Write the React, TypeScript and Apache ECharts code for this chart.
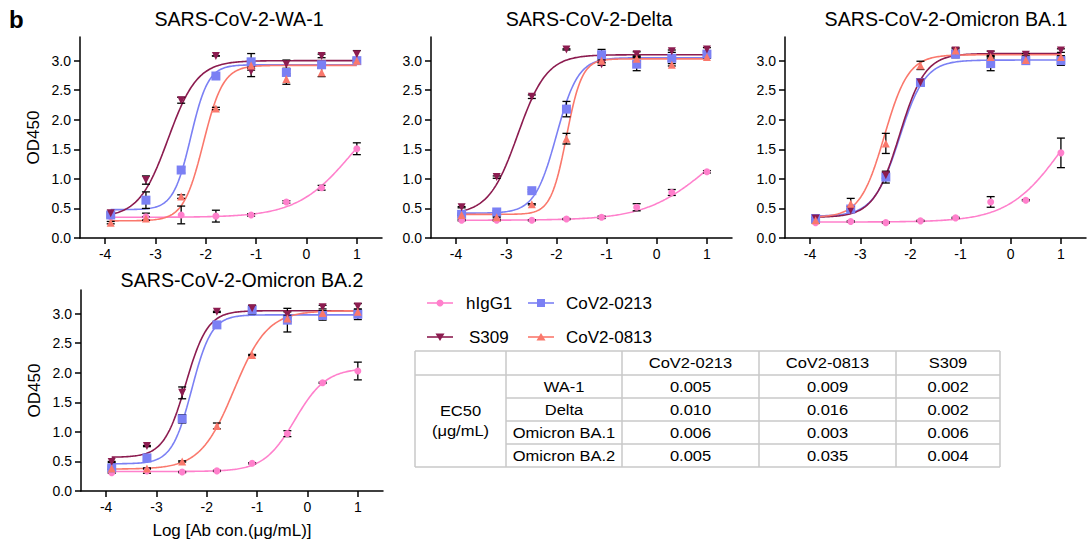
import React, { useEffect, useRef } from "react";
import * as echarts from "echarts";

// ---------- data ----------
const logConc = [-3.89, -3.19, -2.49, -1.8, -1.1, -0.4, 0.3, 1.0];
const antibodies = ["hIgG1", "CoV2-0213", "S309", "CoV2-0813"];
const colors = ["#ff80cc", "#7b80f4", "#8c1c50", "#fa786c"];
const panelTitles = [
  "SARS-CoV-2-WA-1",
  "SARS-CoV-2-Delta",
  "SARS-CoV-2-Omicron BA.1",
  "SARS-CoV-2-Omicron BA.2",
];
const xTicks = [-4, -3, -2, -1, 0, 1];
const yTicks = [0, 0.5, 1, 1.5, 2, 2.5, 3];

// OD450 means, order: hIgG1, CoV2-0213, S309, CoV2-0813
const wa1Values = [
  [0.36, 0.36, 0.39, 0.37, 0.39, 0.61, 0.85, 1.51],
  [0.39, 0.64, 1.15, 2.74, 2.98, 2.8, 2.93, 3.0],
  [0.42, 0.98, 2.33, 3.08, 2.82, 2.94, 3.08, 3.11],
  [0.26, 0.33, 0.7, 2.19, 2.92, 2.69, 2.8, 3.0],
];
const wa1Errors = [
  [0.02, 0.06, 0.15, 0.1, 0.02, 0.02, 0.04, 0.1],
  [0.03, 0.14, 0.05, 0.02, 0.14, 0.05, 0.05, 0.03],
  [0.02, 0.07, 0.05, 0.0, 0.09, 0.07, 0.03, 0.06],
  [0.02, 0.03, 0.03, 0.02, 0.05, 0.09, 0.07, 0.03],
];
const deltaValues = [
  [0.3, 0.3, 0.3, 0.32, 0.35, 0.52, 0.77, 1.12],
  [0.4, 0.44, 0.8, 2.18, 3.1, 2.94, 3.04, 3.11],
  [0.52, 1.03, 2.39, 3.19, 2.94, 3.11, 3.16, 3.19],
  [0.39, 0.35, 0.57, 1.68, 3.0, 3.03, 2.93, 3.06],
];
const deltaErrors = [
  [0.01, 0.01, 0.01, 0.01, 0.02, 0.06, 0.05, 0.02],
  [0.02, 0.02, 0.02, 0.13, 0.09, 0.11, 0.05, 0.03],
  [0.01, 0.02, 0.03, 0.01, 0.02, 0.04, 0.02, 0.03],
  [0.01, 0.01, 0.01, 0.09, 0.03, 0.05, 0.02, 0.02],
];
const ba1Values = [
  [0.26, 0.28, 0.26, 0.29, 0.34, 0.61, 0.64, 1.44],
  [0.33, 0.49, 1.03, 2.63, 3.11, 2.95, 3.0, 3.0],
  [0.33, 0.47, 1.06, 2.63, 3.17, 3.11, 3.1, 3.17],
  [0.3, 0.58, 1.6, 2.92, 3.17, 3.06, 3.01, 3.06],
];
const ba1Errors = [
  [0.01, 0.01, 0.01, 0.01, 0.01, 0.09, 0.01, 0.25],
  [0.02, 0.04, 0.1, 0.05, 0.06, 0.12, 0.03, 0.08],
  [0.01, 0.02, 0.05, 0.03, 0.05, 0.05, 0.02, 0.03],
  [0.01, 0.09, 0.17, 0.07, 0.03, 0.03, 0.02, 0.02],
];
const ba2Values = [
  [0.31, 0.34, 0.32, 0.34, 0.47, 0.97, 1.83, 2.03],
  [0.39, 0.56, 1.22, 2.81, 3.06, 2.89, 2.97, 2.99],
  [0.49, 0.76, 1.66, 3.03, 3.09, 2.98, 3.11, 3.12],
  [0.38, 0.38, 0.5, 1.1, 2.3, 2.92, 3.01, 3.03],
];
const ba2Errors = [
  [0.01, 0.04, 0.01, 0.01, 0.01, 0.05, 0.01, 0.15],
  [0.03, 0.05, 0.07, 0.02, 0.07, 0.2, 0.08, 0.09],
  [0.01, 0.01, 0.1, 0.01, 0.05, 0.05, 0.03, 0.05],
  [0.01, 0.01, 0.01, 0.05, 0.01, 0.05, 0.02, 0.02],
];

// fitted 4PL curves: [bottom, top, logEC50, hill]
const wa1Fit = [
  [0.35, 2.5, 0.9, 0.8],
  [0.48, 2.93, -2.3, 2.5],
  [0.35, 3.0, -2.75, 1.5],
  [0.29, 2.92, -2.05, 2.2],
];
const deltaFit = [
  [0.3, 2.0, 1.0, 0.7],
  [0.42, 3.05, -2.0, 2.0],
  [0.4, 3.1, -2.77, 1.5],
  [0.4, 3.03, -1.8, 2.8],
];
const ba1Fit = [
  [0.27, 2.8, 1.05, 0.8],
  [0.37, 3.01, -2.22, 1.7],
  [0.35, 3.12, -2.22, 1.7],
  [0.35, 3.1, -2.52, 1.8],
];
const ba2Fit = [
  [0.33, 2.08, -0.25, 1.4],
  [0.46, 2.98, -2.3, 2.2],
  [0.57, 3.05, -2.42, 2.0],
  [0.37, 3.05, -1.46, 1.3],
];

// EC50 table
const tableColumns = ["CoV2-0213", "CoV2-0813", "S309"];
const tableRows = ["WA-1", "Delta", "Omicron BA.1", "Omicron BA.2"];
const ec50Cov0213 = ["0.005", "0.010", "0.006", "0.005"];
const ec50Cov0813 = ["0.009", "0.016", "0.003", "0.035"];
const ec50S309 = ["0.002", "0.002", "0.006", "0.004"];

// ---------- layout ----------
const FONT = "Liberation Sans, Arial, Helvetica, sans-serif";
const grids = [
  { left: 80, top: 37, width: 302, height: 201 },
  { left: 431, top: 37, width: 301, height: 201 },
  { left: 785, top: 37, width: 301, height: 201 },
  { left: 81, top: 290, width: 302, height: 201 },
];
const titlePos = [
  [239, 19],
  [589, 19],
  [946, 19],
  [242, 280],
];

const panelValues = [wa1Values, deltaValues, ba1Values, ba2Values];
const panelErrors = [wa1Errors, deltaErrors, ba1Errors, ba2Errors];
const panelFits = [wa1Fit, deltaFit, ba1Fit, ba2Fit];

function fitCurve(p: number[]) {
  const [bottom, top, logEC50, hill] = p;
  const pts: number[][] = [];
  const x0 = logConc[0];
  const x1 = logConc[logConc.length - 1];
  const n = 200;
  for (let i = 0; i <= n; i++) {
    const x = x0 + ((x1 - x0) * i) / n;
    const y = bottom + (top - bottom) / (1 + Math.pow(10, (logEC50 - x) * hill));
    pts.push([x, y]);
  }
  return pts;
}

function symbolFor(i: number) {
  if (i === 0) return { symbol: "circle", symbolSize: 7, symbolRotate: 0 };
  if (i === 1) return { symbol: "rect", symbolSize: 9, symbolRotate: 0 };
  if (i === 2) return { symbol: "triangle", symbolSize: 8, symbolRotate: 180 };
  return { symbol: "triangle", symbolSize: 8, symbolRotate: 0 };
}

function legendMarker(i: number, cx: number, cy: number) {
  const style = { fill: colors[i] };
  if (i === 0) return { type: "circle", shape: { cx, cy, r: 3.5 }, style, z: 10 };
  if (i === 1) return { type: "rect", shape: { x: cx - 4, y: cy - 4, width: 8, height: 8 }, style, z: 10 };
  if (i === 2)
    return { type: "polygon", shape: { points: [[cx - 4.5, cy - 3.5], [cx + 4.5, cy - 3.5], [cx, cy + 4]] }, style, z: 10 };
  return { type: "polygon", shape: { points: [[cx - 4.5, cy + 3.5], [cx + 4.5, cy + 3.5], [cx, cy - 4]] }, style, z: 10 };
}

function buildOption() {
  const xAxis: any[] = [];
  const yAxis: any[] = [];
  const series: any[] = [];
  grids.forEach((g, gi) => {
    xAxis.push({
      type: "value",
      gridIndex: gi,
      min: -4.5,
      max: 1.5,
      axisLine: { onZero: false, lineStyle: { color: "#000", width: 1.5 } },
      axisTick: { show: true, length: 6, lineStyle: { color: "#000", width: 1.5 }, customValues: xTicks },
      axisLabel: { color: "#000", fontSize: 14, fontFamily: FONT, margin: 9, customValues: xTicks },
      splitLine: { show: false },
      name: gi === 3 ? "Log [Ab con.(μg/mL)]" : "",
      nameLocation: "middle",
      nameGap: 31,
      nameTextStyle: { color: "#000", fontSize: 17, fontFamily: FONT },
    });
    yAxis.push({
      type: "value",
      gridIndex: gi,
      min: 0,
      max: 3.4,
      axisLine: { show: true, onZero: false, lineStyle: { color: "#000", width: 1.5 } },
      axisTick: { show: true, length: 6, lineStyle: { color: "#000", width: 1.5 }, customValues: yTicks },
      axisLabel: {
        color: "#000",
        fontSize: 14,
        fontFamily: FONT,
        margin: 9,
        customValues: yTicks,
        formatter: (v: number) => v.toFixed(1),
      },
      splitLine: { show: false },
      name: gi === 0 || gi === 3 ? "OD450" : "",
      nameLocation: "middle",
      nameGap: 38,
      nameRotate: 90,
      nameTextStyle: { color: "#000", fontSize: 17, fontFamily: FONT },
    });

    const vals = panelValues[gi];
    const errs = panelErrors[gi];
    const fits = panelFits[gi];
    antibodies.forEach((ab, ai) => {
      series.push({
        name: ab,
        type: "line",
        xAxisIndex: gi,
        yAxisIndex: gi,
        data: fitCurve(fits[ai]),
        showSymbol: false,
        lineStyle: { color: colors[ai], width: 1.6 },
        z: 2,
        silent: true,
      });
      series.push({
        name: ab + " error",
        type: "custom",
        xAxisIndex: gi,
        yAxisIndex: gi,
        data: logConc.map((x, k) => [x, vals[ai][k] - errs[ai][k], vals[ai][k] + errs[ai][k]]),
        renderItem: (params: any, api: any) => {
          const x = api.value(0);
          const lo = api.value(1);
          const hi = api.value(2);
          const p1 = api.coord([x, hi]);
          const p2 = api.coord([x, lo]);
          const w = 4;
          const st = { stroke: "#000", lineWidth: 1.3 };
          return {
            type: "group",
            children: [
              { type: "line", shape: { x1: p1[0], y1: p1[1], x2: p2[0], y2: p2[1] }, style: st },
              { type: "line", shape: { x1: p1[0] - w, y1: p1[1], x2: p1[0] + w, y2: p1[1] }, style: st },
              { type: "line", shape: { x1: p2[0] - w, y1: p2[1], x2: p2[0] + w, y2: p2[1] }, style: st },
            ],
          };
        },
        z: 3,
        silent: true,
      });
      const sym = symbolFor(ai);
      series.push({
        name: ab,
        type: "scatter",
        xAxisIndex: gi,
        yAxisIndex: gi,
        data: logConc.map((x, k) => [x, vals[ai][k]]),
        symbol: sym.symbol,
        symbolSize: sym.symbolSize,
        symbolRotate: sym.symbolRotate,
        itemStyle: { color: colors[ai], opacity: 1 },
        z: 4,
        silent: true,
      });
    });
  });

  const graphic: any[] = [];
  graphic.push({
    type: "text",
    x: 9,
    y: 19,
    style: { text: "b", font: `bold 24px ${FONT}`, fill: "#000", textVerticalAlign: "middle" },
  });
  panelTitles.forEach((t, i) => {
    graphic.push({
      type: "text",
      x: titlePos[i][0],
      y: titlePos[i][1],
      style: { text: t, font: `19.6px ${FONT}`, fill: "#000", textAlign: "center", textVerticalAlign: "middle" },
    });
  });

  // legend (2 x 2)
  const legendPos = [
    [427, 303, 466],
    [528, 303, 566],
    [427, 337, 469],
    [528, 337, 566],
  ];
  antibodies.forEach((ab, i) => {
    const [lx, ly, tx] = legendPos[i];
    graphic.push({
      type: "line",
      shape: { x1: lx, y1: ly, x2: lx + 26, y2: ly },
      style: { stroke: colors[i], lineWidth: 1.6 },
    });
    graphic.push(legendMarker(i, lx + 13, ly));
    graphic.push({
      type: "text",
      x: tx,
      y: ly,
      style: { text: ab, font: `17px ${FONT}`, fill: "#000", textVerticalAlign: "middle" },
    });
  });

  // EC50 table
  const cols = [415, 506, 622, 759, 896, 1000];
  const rows = [351, 375, 398, 421, 444, 467];
  const stroke = { stroke: "#c9c9c9", lineWidth: 1.5 };
  const left = cols[0];
  const right = cols[cols.length - 1];
  [rows[0], rows[1], rows[5]].forEach((y) =>
    graphic.push({ type: "line", shape: { x1: left, y1: y, x2: right, y2: y }, style: stroke })
  );
  [rows[2], rows[3], rows[4]].forEach((y) =>
    graphic.push({ type: "line", shape: { x1: cols[1], y1: y, x2: right, y2: y }, style: stroke })
  );
  cols.forEach((x) =>
    graphic.push({ type: "line", shape: { x1: x, y1: rows[0], x2: x, y2: rows[5] }, style: stroke })
  );
  const cellFont = `15px ${FONT}`;
  const cellText = (text: string, cx: number, cy: number) =>
    graphic.push({
      type: "text",
      x: cx,
      y: cy,
      scaleX: 1.1,
      style: { text, font: cellFont, fill: "#000", textAlign: "center", textVerticalAlign: "middle" },
    });
  tableColumns.forEach((c, i) => cellText(c, (cols[i + 2] + cols[i + 3]) / 2, (rows[0] + rows[1]) / 2));
  const colValues = [ec50Cov0213, ec50Cov0813, ec50S309];
  tableRows.forEach((r, ri) => {
    const cy = (rows[ri + 1] + rows[ri + 2]) / 2;
    cellText(r, (cols[1] + cols[2]) / 2, cy);
    colValues.forEach((cv, ci) => cellText(cv[ri], (cols[ci + 2] + cols[ci + 3]) / 2, cy));
  });
  const mid = (rows[1] + rows[5]) / 2;
  cellText("EC50", (cols[0] + cols[1]) / 2, mid - 10);
  cellText("(μg/mL)", (cols[0] + cols[1]) / 2, mid + 10);

  return {
    animation: false,
    backgroundColor: "#fff",
    grid: grids.map((g) => ({ ...g, containLabel: false })),
    xAxis,
    yAxis,
    series,
    graphic,
  };
}

export default function App() {
  const ref = useRef<HTMLDivElement>(null);
  useEffect(() => {
    if (!ref.current) return;
    const chart = echarts.init(ref.current, undefined, { renderer: "svg" });
    chart.setOption(buildOption() as any);
    return () => chart.dispose();
  }, []);
  return (
    <div
      ref={ref}
      style={{ position: "fixed", left: 0, top: 0, width: 1087, height: 546, background: "#fff" }}
    />
  );
}
